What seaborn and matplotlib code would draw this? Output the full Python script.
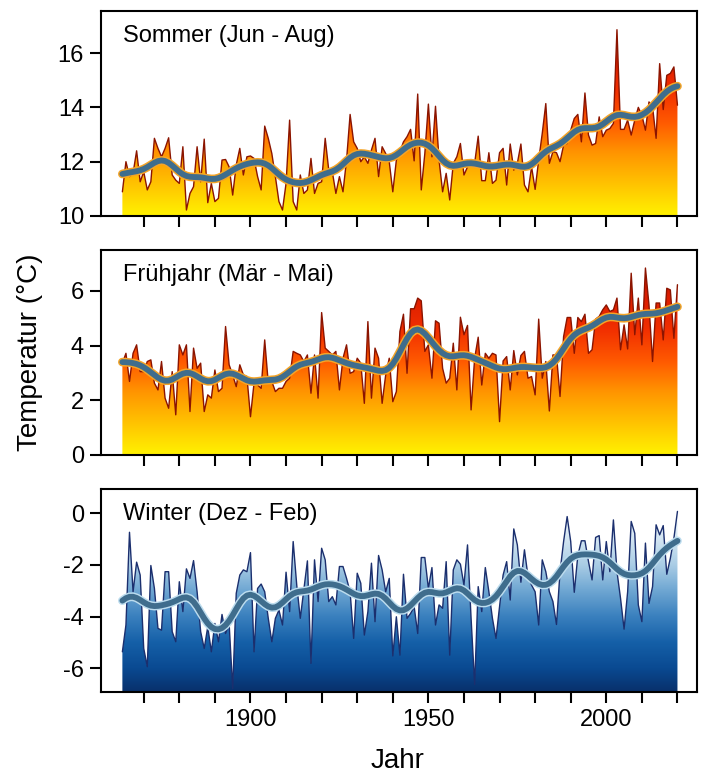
import numpy as np
import pandas as pd
import seaborn as sns
import matplotlib.pyplot as plt
from matplotlib.colors import LinearSegmentedColormap

# Jahresreihen, 1864 - 2020
jahre = list(range(1864, 2021))

sommer = [
    10.89, 12.00, 11.45, 11.57, 12.40, 11.26, 11.63, 10.96, 11.26, 12.86,  # 1864-1873
    12.49, 12.18, 12.49, 12.88, 11.51, 11.32, 11.20, 12.55, 10.22, 10.83,  # 1874-1883
    11.08, 12.55, 11.26, 12.83, 10.49, 11.20, 10.53, 10.65, 12.06, 12.08,  # 1884-1893
    11.81, 10.77, 11.88, 12.49, 11.51, 12.18, 12.21, 12.12, 11.45, 10.96,  # 1894-1903
    13.31, 12.86, 12.30, 11.45, 10.53, 10.22, 11.20, 13.53, 10.53, 10.22,  # 1904-1913
    11.51, 10.83, 10.96, 12.12, 10.83, 11.20, 11.26, 12.86, 11.69, 11.63,  # 1914-1923
    10.83, 11.45, 10.89, 12.06, 13.74, 12.73, 12.49, 12.00, 12.18, 11.94,  # 1924-1933
    12.43, 12.86, 11.45, 12.55, 12.30, 12.00,                              # 1934-1939
    10.89, 12.06, 12.37, 12.73, 12.92, 13.19, 12.03, 14.49, 10.96, 12.30,  # 1940-1949
    14.12, 12.18, 14.04, 12.06, 10.89, 11.57, 10.59, 11.94, 12.18, 12.67,  # 1950-1959
    11.51, 11.81, 12.08, 11.94, 12.94, 11.30, 11.30, 12.33, 11.20, 11.32,  # 1960-1969
    12.33, 12.49, 11.14, 12.65, 11.69, 11.94, 12.65, 11.14, 10.89, 11.81,  # 1970-1979
    10.98, 12.06, 13.04, 14.14, 11.94, 12.37, 12.33, 12.00, 12.61, 12.67,  # 1980-1989
    13.16, 13.59, 13.74, 12.73, 14.53, 12.98, 12.61, 12.67, 13.65, 12.92,  # 1990-1999
    13.16, 13.22, 13.41, 16.86, 13.19, 13.19, 13.53, 12.98, 13.53, 14.00,  # 2000-2009
    13.71, 13.16, 14.20, 14.02, 12.86, 15.61, 13.92, 15.18, 15.25, 15.49,  # 2010-2019
    14.08]

fruehjahr = [
    3.36, 3.72, 2.69, 3.72, 4.03, 3.05, 3.05, 3.42, 3.48, 2.63,  # 1864-1873
    2.38, 3.42, 2.08, 1.71, 3.05, 1.47, 4.03, 3.66, 4.03, 1.59,  # 1874-1883
    3.91, 3.17, 3.36, 1.59, 2.20, 2.08, 3.11, 2.32, 2.44, 4.70,  # 1884-1893
    3.30, 2.93, 2.50, 3.30, 2.93, 2.87, 1.40, 2.63, 2.56, 2.44,  # 1894-1903
    4.21, 2.63, 2.69, 2.32, 2.44, 2.44, 2.69, 2.81, 3.79, 3.72,  # 1904-1913
    3.66, 3.42, 3.66, 2.26, 3.66, 2.08, 5.21, 3.91, 3.79, 3.66,  # 1914-1923
    3.79, 2.38, 3.54, 4.03, 2.99, 3.05, 3.54, 3.36, 1.89, 4.88,  # 1924-1933
    2.08, 3.91, 3.54, 1.89, 2.93, 3.54, 1.95, 2.32, 4.52, 5.15,  # 1934-1943
    2.99, 5.35, 5.35, 5.74, 5.64, 3.79, 4.03, 2.81, 4.91, 4.82,  # 1944-1953
    3.17, 2.63, 2.81, 4.09, 2.38, 5.04, 4.40, 4.74, 1.65, 3.54,  # 1954-1963
    4.31, 2.56, 3.72, 3.54, 3.72, 3.66, 1.22, 3.44, 3.60, 2.38,  # 1964-1973
    3.82, 2.93, 3.64, 3.79, 2.81, 2.87, 2.20, 4.97, 2.81, 3.42,  # 1974-1983
    1.61, 3.66, 3.66, 2.14, 4.33, 5.03, 5.03, 3.72, 5.03, 4.88,  # 1984-1993
    5.15, 3.72, 3.85, 4.97, 5.07, 5.31, 5.49, 5.25, 5.31, 5.74,  # 1994-2003
    3.85, 4.76, 3.88, 6.65, 4.40, 5.74, 4.03, 6.84, 5.49, 3.42,  # 2004-2013
    5.56, 5.56, 4.21, 6.10, 6.04, 4.27, 6.23]

winter = [
    -5.37, -4.33, -0.73, -3.04, -1.89, -2.39, -5.24, -5.95, -2.02, -2.91,  # 1864-1873
    -4.46, -4.53, -2.26, -2.26, -4.59, -4.98, -2.65, -3.81, -2.15, -2.52,  # 1874-1883
    -1.83, -3.04, -4.59, -5.24, -4.40, -5.37, -4.27, -4.98, -3.92, -4.66,  # 1884-1893
    -4.27, -6.80, -3.10, -2.39, -2.19, -2.26, -1.52, -5.37, -2.91, -2.74,  # 1894-1903
    -3.04, -4.07, -4.98, -4.07, -3.75, -4.33, -2.28, -3.81, -1.09, -2.78,  # 1904-1913
    -4.07, -2.97, -1.84, -5.82, -1.80, -3.42, -1.35, -1.80, -3.42, -3.23,  # 1914-1923
    -3.55, -2.06, -2.06, -2.52, -3.04, -4.85, -2.32, -2.71, -4.72, -3.81,  # 1924-1933
    -1.93, -4.20, -1.63, -2.19, -3.04, -2.52, -5.53, -4.01, -5.50, -2.36,  # 1934-1943
    -4.07, -3.88, -3.62, -4.66, -1.71, -1.71, -2.91, -2.10, -4.33, -3.55,  # 1944-1953
    -3.68, -1.87, -5.50, -2.19, -1.80, -1.97, -2.78, -1.22, -4.07, -6.64,  # 1954-1963
    -2.84, -3.81, -2.10, -3.04, -4.07, -4.85, -3.62, -2.39, -1.87, -3.36,  # 1964-1973
    -0.60, -1.22, -2.67, -1.41, -2.45, -2.78, -3.04, -4.33, -1.80, -2.26,  # 1974-1983
    -3.04, -3.42, -4.31, -2.26, -1.09, -0.12, -1.09, -3.06, -1.63, -1.06,  # 1984-1993
    -1.06, -1.87, -2.58, -0.93, -0.86, -2.58, -1.09, -2.26, -0.25, -2.26,  # 1994-2003
    -3.29, -4.49, -3.04, -0.31, -0.77, -3.55, -4.20, -1.15, -3.49, -2.84,  # 2004-2013
    -0.44, -0.83, -0.47, -2.36, -1.74, -0.96, 0.08]

titel = ['Sommer (Jun - Aug)', 'Frühjahr (Mär - Mai)', 'Winter (Dez - Feb)']
ylims = [(10, 17.55), (0, 7.5), (-6.93, 0.95)]
yticks = [[10, 12, 14, 16], [0, 2, 4, 6], [-6, -4, -2, 0]]

warm = LinearSegmentedColormap.from_list(
    'warm', ['#fff200', '#ffc400', '#ff9600', '#ff5a00', '#f23000', '#dd1e00', '#c81600'])
kalt = LinearSegmentedColormap.from_list(
    'kalt', [(0.0, '#08306b'), (0.118, '#0a4a92'), (0.245, '#1560a8'), (0.372, '#3a80be'),
             (0.499, '#6ea6d2'), (0.626, '#a9cce5'), (0.753, '#d3e5f2'), (0.88, '#eef5fa'),
             (1.0, '#ffffff')])


def glatt(x, y, s=3.2):
    # Gauss-gewichtetes gleitendes Mittel
    x = np.asarray(x, float)
    y = np.asarray(y, float)
    w = np.exp(-0.5 * ((x[:, None] - x[None, :]) / s) ** 2)
    return (w @ y) / w.sum(axis=1)


sns.set_style('ticks')
plt.rcParams['font.family'] = ['Liberation Sans', 'DejaVu Sans']
plt.rcParams['axes.unicode_minus'] = False
plt.rcParams['text.color'] = 'black'
plt.rcParams['xtick.color'] = 'black'
plt.rcParams['ytick.color'] = 'black'

fig = plt.figure(figsize=(7.08, 7.73), dpi=100)
pos = [[0.1422, 0.7206, 0.8423, 0.2652],
       [0.1422, 0.4114, 0.8423, 0.2652],
       [0.1422, 0.1048, 0.8423, 0.2626]]

reihen = [sommer, fruehjahr, winter]
for i, werte in enumerate(reihen):
    ax = fig.add_axes(pos[i])
    df = pd.DataFrame({'Jahr': jahre, 'Wert': werte})
    df['Glatt'] = glatt(df['Jahr'], df['Wert'])
    lo, hi = ylims[i]
    cmap = kalt if i == 2 else warm
    linie = '#1b2f6e' if i == 2 else '#8b1400'
    rand = '#bcdcee' if i == 2 else '#f5a528'

    poly = ax.fill_between(df['Jahr'], df['Wert'], lo, facecolor='none', edgecolor='none')
    top = hi if i == 2 else df['Wert'].max()
    verlauf = np.linspace(0, 1, 256).reshape(-1, 1)
    im = ax.imshow(verlauf, cmap=cmap, aspect='auto', origin='lower',
                   extent=[jahre[0], jahre[-1], lo, top], zorder=1)
    im.set_clip_path(poly.get_paths()[0], transform=ax.transData)

    sns.lineplot(x='Jahr', y='Wert', data=df, ax=ax, color=linie, linewidth=1.0,
                 estimator=None, zorder=3)
    sns.lineplot(x='Jahr', y='Glatt', data=df, ax=ax, color=rand, linewidth=6.3,
                 estimator=None, zorder=4)
    sns.lineplot(x='Jahr', y='Glatt', data=df, ax=ax, color='#3f6d8d', linewidth=4.2,
                 estimator=None, zorder=5)

    ax.set_xlim(1857.9, 2025.5)
    ax.set_ylim(lo, hi)
    ax.set_yticks(yticks[i])
    ax.set_xticks(list(range(1870, 2021, 10)))
    if i == 2:
        ax.set_xticklabels([str(t) if t in (1900, 1950, 2000) else ''
                            for t in range(1870, 2021, 10)])
    else:
        ax.set_xticklabels([])
    ax.set_xlabel('')
    ax.set_ylabel('')
    ax.tick_params(axis='both', length=8, width=1.5, labelsize=17, pad=4,
                   color='black', labelcolor='black')
    for sp in ax.spines.values():
        sp.set_visible(True)
        sp.set_linewidth(1.5)
        sp.set_color('black')
    ax.set_facecolor('white')
    ax.text(0.037, 0.93, titel[i], transform=ax.transAxes, ha='left', va='top',
            fontsize=17, color='black', zorder=6)

fig.text(0.042, 0.544, 'Temperatur (°C)', rotation=90, ha='center', va='center',
         fontsize=20, color='black')
fig.text(0.561, 0.015, 'Jahr', ha='center', va='center', fontsize=20, color='black')

fig.savefig('out.png', dpi=100)
plt.close()
